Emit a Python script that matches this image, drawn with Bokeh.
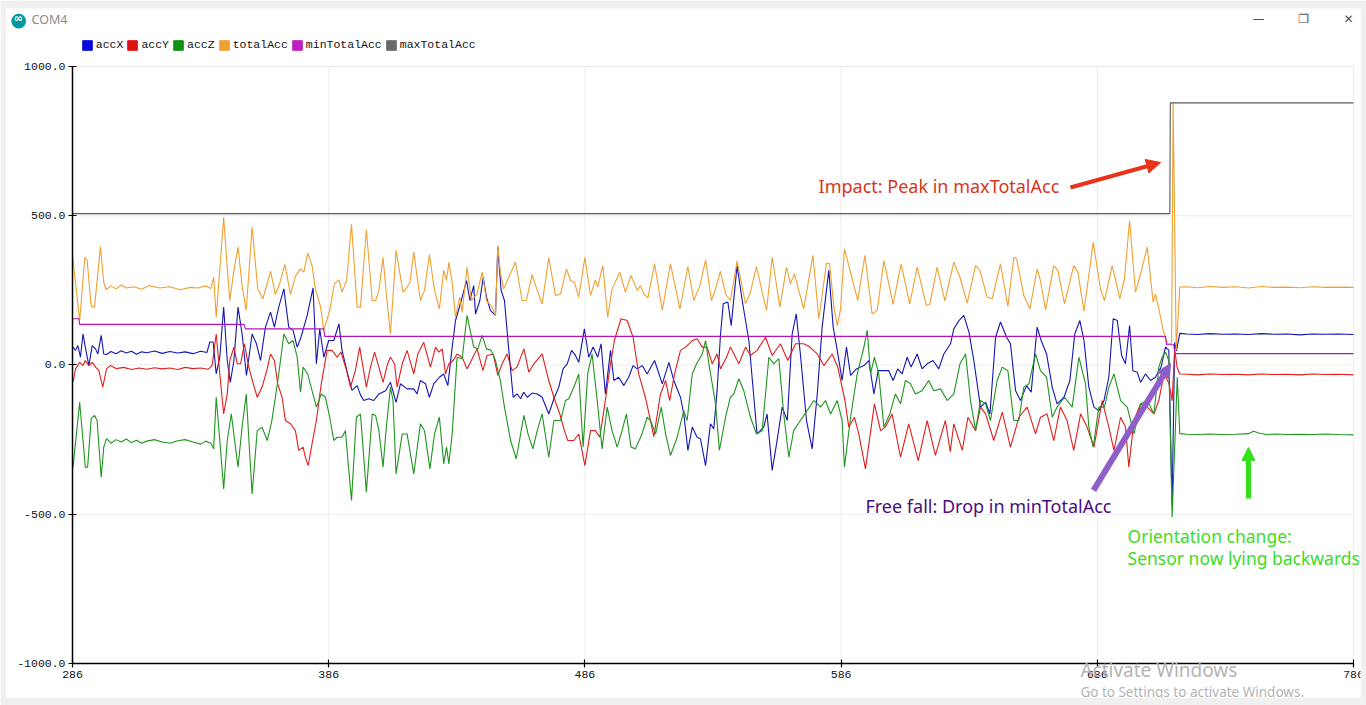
import numpy as np
from bokeh.plotting import figure
from bokeh.models import (Range1d, FixedTicker, NumeralTickFormatter, Legend, LegendItem,
                          Label, Arrow, NormalHead)
from bokeh.embed import file_html
from bokeh.resources import INLINE

# ---------------- data ----------------
series_names = ["accX", "accY", "accZ", "totalAcc", "minTotalAcc", "maxTotalAcc"]
series_colors = ["#1515b4", "#e01e1e", "#1f951f", "#f0a030", "#b414b4", "#5a5a5a"]
legend_colors = ["#0a0ad8", "#e01010", "#109410", "#f0a030", "#c020c0", "#6a6a6a"]

x_ticks = [286, 386, 486, 586, 686, 786]
y_ticks = [-1000, -500, 0, 500, 1000]

total_t = [286, 288.8, 290.8, 291.7, 293.3, 294.6, 296.9, 298.2, 299.1, 301, 303, 305, 307, 310, 313, 316, 320,
           324, 328, 332, 335, 338, 340, 341.1, 342.1, 345, 346.4, 347.4, 349, 350.6, 352.2, 353.8, 356.1,
           358.3, 360.3, 363.3, 365.2, 366.9, 368.9, 371.1, 373, 375, 376.3, 377.8, 379.5, 380.8, 382.8,
           384.1, 386.4, 388.2, 390, 391.2, 393, 394.9, 397.1, 398.4, 400.7, 403, 404.3, 405.6, 407.2,
           408.5, 410.1, 412.3, 415, 416.6, 417.7, 419.2, 421.8, 423.4, 425.3, 427.3, 429.2, 430.9, 432,
           432.9, 434.2, 435.5, 437.2, 438.1, 440, 441.7, 443.9, 445.9, 447.6, 449.8, 451.1, 452, 453,
           454.3, 456.3, 458.9, 461.5, 463.1, 465.4, 467.4, 469.3, 471.9, 474.5, 476.5, 478.8, 480.4,
           481.9, 483.6, 486, 488.2, 490.1, 491, 493, 494.9, 496.6, 499.6, 501.8, 504, 506.4, 507.7, 509,
           510.6, 513.2, 516.2, 519.4, 523.1, 526.2, 528.5, 530.9, 533.1, 535.4, 537, 538.9, 540.9, 542.8,
           545.4, 548.7, 550.6, 553, 555.2, 556.9, 559.1, 562.1, 564.7, 566.2, 567.8, 571.4, 575, 577.3,
           580.3, 581.5, 583.2, 584.5, 585.8, 587.3, 589, 592.5, 595.3, 598.1, 600.1, 602.7, 606.3, 609.4,
           612.8, 615.7, 619.3, 620.6, 623.5, 626.5, 630, 632.4, 635.2, 638.5, 640.2, 643, 645, 648.2,
           651.1, 653.4, 654.5, 657.3, 659.7, 662.5, 663.8, 665.8, 669, 670.6, 673.2, 676.8, 678.4, 680.8,
           684.4, 687.3, 688.8, 691.8, 694.8, 696.6, 698.6, 700.9, 702.9, 705.5, 707.8, 708.7, 710.7,
           711.7, 712.6, 713.5, 715, 715.6, 716.8, 718.2, 721, 725, 730, 735, 740, 745, 750, 755, 760, 765,
           770, 775, 780, 786]
total_v = [367, 149, 361, 352, 196, 194, 397, 277, 252, 265, 255, 268, 258, 262, 254, 266, 258,
           262, 252, 260, 258, 265, 256, 294, 160, 495, 328, 216, 317, 395, 266, 183, 462,
           255, 222, 314, 236, 274, 337, 236, 297, 322, 311, 375, 333, 255, 196,
           116, 183, 272, 285, 244, 283, 471, 194, 194, 453, 216, 216, 250, 361,
           238, 104, 384, 244, 261, 277, 378, 216, 250, 370, 250, 188, 317, 283,
           344, 277, 160, 227, 177, 328, 216, 238, 311, 216, 194, 166, 400, 311,
           255, 294, 345, 216, 216, 303, 250, 205, 359, 233, 238, 322, 283,
           277, 227, 361, 233, 285, 261, 333, 160, 255, 311, 244, 300, 250, 266, 238,
           225, 339, 183, 339, 188, 330, 216, 266, 352, 216, 255, 314, 238, 216,
           348, 205, 244, 330, 244, 183, 361, 194, 328, 272, 305, 188, 367, 155,
           341, 339, 194, 132, 188, 389, 333, 216, 367, 171, 183, 350, 203, 339,
           205, 328, 199, 203, 328, 215, 344, 294, 207, 333, 317, 227, 222, 339,
           196, 361, 356, 233, 188, 322, 283, 185, 333, 317, 205, 333, 311, 180,
           411, 252, 216, 333, 222, 289, 484, 244, 305, 395, 210, 238, 160,
           116, 93, 71, 71, 878, 50, 261, 262, 259, 263, 260, 262, 258, 263, 260, 261, 259,
           262, 260, 261, 260]

accx_t = [286.2, 287.2, 288.1, 289.1, 290.1, 291, 292.4, 293.7, 295, 295.9, 297.2, 298.2, 299.3, 301, 303,
          305, 307, 309, 311, 313, 315, 318, 321, 324, 327, 330, 333, 336, 338.5, 339.6, 340.9, 342.1,
          343.5, 345, 346.4, 347.6, 349, 350.6, 352.2, 353.9, 356.1, 357.8, 359.4, 361.3, 363.3, 364.8,
          366.5, 368.5, 370.4, 372.1, 373.7, 375, 377.6, 379.9, 381.2, 382.5, 384.1, 386, 388, 390, 391.2,
          393.4, 395.1, 397.1, 398.4, 399.7, 401.6, 403.6, 405.6, 408.2, 410.1, 412.3, 414, 416.6, 419.2,
          420.5, 421.8, 423.8, 425.3, 427, 429.2, 430.9, 432.5, 434.2, 435.5, 437.4, 439.8, 441.1, 442.6,
          443.3, 445, 446.3, 447.6, 449.1, 451.1, 452, 453.3, 454.6, 456.3, 458, 459.5, 460.9, 462.1,
          463.5, 465.4, 467.4, 469.3, 471.9, 473.9, 475.8, 477.5, 479.1, 480.8, 482.3, 483.6, 485.8,
          487.5, 489.2, 491, 492.3, 494, 496, 497.3, 499.2, 501.2, 503.1, 504.8, 506.4, 508.4, 510.3,
          513.2, 516.2, 518.8, 520.7, 523.3, 524.6, 526.2, 527.9, 529.8, 531.1, 533.1, 535, 536.3, 537.6,
          538.9, 540, 541.8, 543.1, 545.4, 547.4, 550, 553.2, 555.8, 557.1, 559.1, 560.8, 563, 565,
          566.9, 568.5, 570.1, 572.5, 574.7, 576.7, 578.6, 581.2, 582.9, 584.5, 586.4, 588.1, 589.7, 592,
          593.6, 594.9, 596.8, 598.8, 600.5, 602.4, 604.6, 606.3, 608.1, 609.8, 611.8, 613.3, 615.7,
          617.6, 619.6, 621.9, 624.1, 626.1, 628.7, 630, 632, 633.9, 635.9, 637.8, 640.4, 642.4, 644.1,
          646.3, 648.2, 650.6, 652.1, 654.1, 656, 658.4, 660.2, 662.5, 664.1, 666.2, 668.4, 670.3, 673,
          675.3, 677.2, 679.2, 680.8, 682.7, 684.7, 686.6, 688.6, 690.5, 692.2, 693.8, 695.5, 697, 698.6,
          699.9, 701.6, 702.9, 704.8, 706.8, 708.7, 710.9, 712.6, 713.9, 715.2, 716.2, 716.9, 718.2, 721,
          725, 730, 735, 740, 745, 750, 755, 760, 765, 770, 775, 780, 786]
accx_v = [60, 49, 65, 26, 104, 60, -2, 65, 54, 37, 99, 37, 35, 45, 38,
          48, 40, 46, 36, 44, 41, 47, 39, 45, 40, 44, 38, 46, 42, 77, 77, -30,
          26, 194, 15, -58, 15, 194, 104, -35, 104, 71, 15, 127, 177, 127,
          194, 255, 127, 116, 60, 88, 166, 258, 4, 121, 26, 82, 82, 138, 49,
          -30, -85, -69, -100, -119, -113, -119, -97, -86, -58, -125, -63, -80, -80,
          -97, -52, -63, -108, -63, -41, -30, -69, 60, 149, 205, 283, 216, 266,
          171, 216, 294, 227, 183, 166, 395, 250, 216, 49, -108, -97, -113, -91,
          -108, -94, -97, -108, -164, -113, -74, -13, 4, 49, 32, 9, 121,
          26, 60, 26, 71, -97, 49, -52, -41, -69, -41, -2, -13, -2, -30,
          15, -63, 9, -52, -108, -164, -286, -208, -242, -247, -337, -197, -214, -86,
          99, 205, 211, 132, 333, 216, 82, -231, -208, -164, -353, -264, -141, -186,
          104, 171, 37, -186, -281, -97, 127, 317, 127, 49, -52, 60, -35, -13,
          -7, -2, 15, -97, -19, -19, -19, -52, -13, -30, 26, -7, 37,
          -13, 4, 15, -13, 37, 71, 121, 149, 166, 110, 15, -141, -125, -164,
          93, 144, 93, 71, -86, -119, -69, -91, 127, 82, 37, -74, -130, -108,
          -52, 104, 149, 82, -74, -141, -153, -119, -41, 155, 149, 32, 4, 132,
          -19, -24, -58, -30, -52, -41, -7, 60, 50, -470, 76, 47, 106, 104,
          102, 105, 103, 104, 102, 105, 103, 104, 101, 104, 103, 104, 102]

accy_t = [286.2, 287.2, 288.8, 290.1, 291, 292.4, 293.7, 295, 296.3, 297.8, 299.3, 300.8, 303, 306, 309,
          312, 315, 318, 321, 324, 327, 330, 333, 336, 339, 340.5, 342.1, 343.5, 345, 346.4, 347.4, 349,
          350.3, 351.6, 353.1, 354.8, 356.4, 358.1, 360, 362, 363.3, 364.8, 366.1, 367.8, 369.1, 371.1,
          373, 374.3, 376, 376.9, 378, 379.5, 381.2, 383.1, 385.4, 387.3, 389.3, 390.8, 393, 394.5, 396.4,
          398.1, 400.7, 402.3, 403.9, 405.6, 407.2, 409, 410.1, 411.7, 412.7, 414.7, 416.6, 419.2, 420.8,
          423.1, 425.7, 427.7, 429, 430.3, 431.6, 432.9, 434.6, 436.1, 438.1, 440, 442, 443.9, 446.2,
          447.8, 450.2, 452, 453.7, 455.6, 457.6, 459.5, 462.2, 464.1, 466.1, 469.3, 471.9, 473.9, 476.2,
          478, 479.3, 481.7, 483.6, 486, 488.2, 490.1, 491.8, 493.4, 496, 497.5, 500.1, 502.5, 504.8, 507,
          509.6, 511.6, 512.9, 515.5, 517.5, 519.1, 521, 523.3, 525.3, 527.9, 529.8, 531.8, 533.7, 535.7,
          537.6, 538.9, 541.3, 542.8, 546.1, 548.7, 550.6, 553.2, 556.5, 559.1, 562.3, 565.2, 568.2,
          571.4, 573.8, 576.7, 579.3, 582.5, 584.7, 586.4, 587.5, 589, 591.2, 592.9, 595.5, 599, 601.4,
          603.3, 605.9, 609.2, 612.4, 616.1, 619.6, 622.8, 626.7, 628.6, 630, 633.3, 635.5, 638.5, 640.4,
          642.4, 645.6, 648.9, 652.1, 655.4, 658.6, 661.9, 663.8, 666.4, 669, 671.6, 674.2, 676.8, 679.5,
          682, 684.7, 687.9, 690.5, 692.5, 695.1, 697, 698.3, 700.3, 702.9, 705.5, 708.1, 710, 712, 713.9,
          715.2, 716.2, 717.2, 718.2, 721, 725, 730, 735, 740, 745, 750, 755, 760, 765, 770, 775, 780, 786]
accy_v = [-57, -13, 9, -2, 15, -2, 9, -7, -19, -74, -13, -2, -12, -8, -15,
          -10, -14, -9, -13, -10, -15, -8, -12, -10, -14, -2, 104, -30, -164, -97, 15, 60,
          4, 4, 71, -7, -58, -108, -74, -13, 37, 15, -63, -108, -186, -197,
          -220, -286, -275, -309, -337, -264, -186, -63, 49, 49, 26, 43, -19, -74, -19,
          60, -74, -7, 43, -7, -58, 4, 26, 4, -74, 4, 49, -30, 37,
          76, -7, 60, 43, 54, -30, 4, 15, 37, 26, -13, 21, 54, -19,
          32, 37, -35, 4, 37, -19, -7, 54, -24, 4, 37, -52, -108, -164,
          -220, -253, -253, -231, -337, -220, -220, -242, -153, 4, 82, 155, 149, 93, -30,
          -108, -186, -240, -97, -52, -119, -30, 49, 60, 82, 88, 60, 60, 4,
          37, -13, 26, 60, 4, 60, 32, 49, 93, 32, 71, 15, 71,
          71, 60, 37, -2, 37, -7, -74, -119, -208, -175, -231, -348, -130, -220,
          -208, -164, -309, -197, -320, -186, -303, -186, -290, -197, -286, -175, -220, -141,
          -164, -253, -158, -275, -175, -141, -231, -175, -164, -253, -141, -186, -286, -164,
          -208, -275, -119, -208, -286, -175, -208, -342, -186, -130, -141, -164, -119, -30, -60,
          -120, 50, -10, -30, -31, -33, -30, -32, -31, -33, -30, -32, -31, -33, -30, -32, -31, -33]

accz_t = [286.2, 288.8, 291, 291.9, 293.3, 294.6, 295.6, 297.2, 298.2, 299.3, 301, 303, 305, 307, 309, 311,
          313, 315, 318, 321, 324, 327, 330, 333, 336, 338, 340, 341.1, 342.1, 343.5, 345, 346.4, 348,
          349.6, 350.6, 352.2, 353.8, 356.1, 358.1, 360, 362, 363.7, 365.2, 366.5, 368.5, 370.4, 372.1,
          373.7, 375, 376, 377.8, 379.5, 381.2, 383.1, 384.7, 386.4, 388, 389.3, 391.2, 392.5, 394.9,
          396.8, 398.4, 400.7, 403, 404.3, 405.6, 407.2, 408.5, 410.1, 411.1, 412.3, 414.7, 416.6, 419.2,
          421.8, 423.4, 425.5, 427.3, 429.2, 430.9, 432, 432.9, 434.2, 436.1, 438.1, 440, 442.6, 444.2,
          445.9, 447.6, 449.4, 451.1, 453, 454.6, 457, 459.2, 462.2, 463.8, 465.7, 467.4, 469.3, 471.9,
          473.9, 476.5, 478.4, 479.7, 481.7, 483.6, 485.3, 487.1, 488.8, 490.8, 492.7, 494.7, 496.6,
          498.6, 500.5, 502.2, 504, 505.7, 508.3, 510.3, 511.6, 513.6, 515.8, 517.5, 519.4, 522, 524.6,
          525.9, 527.9, 529.6, 531.8, 533.1, 534.4, 537, 538.5, 540.9, 542.8, 544.1, 546.1, 548, 550.6,
          553, 555.2, 557.8, 559.7, 561.7, 563.6, 565.6, 567.5, 570.1, 572.7, 575.4, 578, 579.9, 581.9,
          584.5, 586.4, 587.3, 589.7, 592.3, 594.9, 596.2, 597.5, 599, 600.7, 602.7, 605, 607.2, 609.2,
          611.1, 613.1, 615, 617.6, 620.2, 622.2, 624.8, 627.4, 630, 632.4, 634.6, 636.5, 638.5, 640.4,
          642.4, 644.3, 646.9, 648.9, 651.1, 653.4, 655.4, 657.3, 659.3, 661.9, 663.8, 666.2, 668.4,
          670.3, 673.2, 676.2, 678.8, 681.4, 682.7, 684.4, 686.6, 688.8, 690.5, 692.5, 695.1, 697.7,
          700.3, 702.9, 705.5, 708.1, 710, 711.3, 712.6, 713.9, 715.2, 717.2, 718.2, 721, 725, 730, 735,
          740, 745, 747, 749, 752, 756, 760, 765, 770, 775, 780, 786]
accz_v = [-342, -125, -342, -342, -180, -169, -186, -376, -275, -247, -262, -250, -258, -248, -260, -252,
          -262, -255, -250, -258, -262, -254, -250, -258, -265, -255, -262, -281, -108, -253, -415, -253, -164,
          -275, -342, -208, -97, -432, -220, -208, -253, -192, -108, -30, 104, 71, 82,
          26, -91, -7, -30, -86, -141, -97, -108, -175, -253, -242, -242, -220, -454,
          -175, -164, -426, -164, -169, -220, -342, -208, -74, -119, -365, -231, -231, -365,
          -197, -220, -348, -231, -175, -331, -275, -331, -231, 26, 21, 166, 60, 54,
          99, 54, 49, 15, -52, -141, -253, -314, -169, -231, -281, -220, -164, -309,
          -186, -186, -119, -113, -74, -30, -275, -30, 37, -119, -281, -141, -220,
          -275, -220, -164, -275, -281, -231, -175, -186, -231, -141, -231, -303, -242, -153,
          -186, -30, 4, 37, 82, 4, -130, -286, -175, -108, -97, -46, -86, -175,
          -231, -220, 26, 4, 21, -164, -309, -220, -186, -153, -119, -141, -119, -164,
          -119, -186, -342, -175, -30, 60, 116, -30, 26, -30, -208, -164, -97, -130,
          -52, -63, -97, -86, -52, -86, -80, -119, -97, 4, 37, -119, -220, -119,
          -130, -186, -52, -7, -19, -186, -186, -74, -63, 37, -19, -41, -175,
          -141, -108, -141, 26, -63, -208, -275, -141, -141, -74, -30, -119, -141,
          -231, -130, -119, -164, -7, 26, 43, 15, -510, -41, -230, -232, -233, -231, -233,
          -232, -230, -222, -228, -233, -231, -233, -232, -233, -231, -233, -234]

min_t = [286, 288.5, 288.8, 352.9, 353.5, 384.0, 384.5, 712.6, 713.0, 715.8, 716.3, 786]
min_v = [155, 155, 136, 136, 121, 121, 96, 96, 68, 68, 38, 38]

max_t = [286, 714.3, 714.5, 786]
max_v = [507, 507, 878, 878]

series_t = [accx_t, accy_t, accz_t, total_t, min_t, max_t]
series_v = [accx_v, accy_v, accz_v, total_v, min_v, max_v]

# ---------------- figure ----------------
# The frame covers the white window area; axes are pinned at the plot edges so that the
# title bar, legend and watermark texts can sit inside the same canvas.
p = figure(width=1366, height=705, output_backend="svg", toolbar_location=None,
           x_range=Range1d(260.24, 788.73), y_range=Range1d(-1113.9, 1194.3),
           min_border_left=6, min_border_right=6, min_border_top=8, min_border_bottom=8)
p.outline_line_color = None
p.background_fill_color = "white"
p.border_fill_color = "#f0f0f0"
p.xgrid.visible = False
p.ygrid.visible = False

# grid lines limited to the plotting area
p.segment(x0=x_ticks[1:], x1=x_ticks[1:], y0=[y_ticks[0]] * 5, y1=[y_ticks[-1]] * 5,
          line_color="#ececec", line_width=1)
p.segment(x0=[x_ticks[0]] * 4, x1=[x_ticks[-1]] * 4, y0=y_ticks[1:], y1=y_ticks[1:],
          line_color="#ececec", line_width=1)

for t, v, c in zip(series_t, series_v, series_colors):
    p.line(t, v, line_color=c, line_width=1.1)

for ax, ticks in ((p.xaxis[0], x_ticks), (p.yaxis[0], y_ticks)):
    ax.ticker = FixedTicker(ticks=ticks)
    ax.bounds = (ticks[0], ticks[-1])
    ax.axis_line_color = "black"
    ax.axis_line_width = 1.5
    ax.major_tick_line_color = "black"
    ax.major_tick_line_width = 1.2
    ax.major_tick_in = 4
    ax.major_tick_out = 4
    ax.minor_tick_line_color = None
    ax.major_label_text_font = "Liberation Mono"
    ax.major_label_text_font_size = "11.5px"
    ax.major_label_text_color = "#111111"
    ax.major_label_standoff = 3
p.xaxis[0].fixed_location = y_ticks[0]
p.yaxis[0].fixed_location = x_ticks[0]
p.yaxis[0].formatter = NumeralTickFormatter(format="0.0")

# legend with square swatches (swatch renderers hold a single NaN so they draw nothing)
nan1 = np.array([np.nan])
items = []
for name, c in zip(series_names, legend_colors):
    r = p.quad(left=nan1, right=nan1, top=nan1, bottom=nan1, fill_color=c, line_color=c)
    items.append(LegendItem(label=name, renderers=[r]))
leg = Legend(items=items, orientation="horizontal", location=(74.8, 646),
             glyph_width=12, glyph_height=12, label_height=12, label_standoff=3, spacing=3,
             padding=0, margin=0, border_line_alpha=0, background_fill_alpha=0,
             label_text_font="Liberation Mono", label_text_font_size="11.5px",
             label_text_color="#111111")
p.add_layout(leg, "center")

# window title bar
p.add_layout(Label(x=264.9, y=1160, text="●", text_color="#00979d", text_font="DejaVu Sans",
                   text_font_size="19px", text_align="center", text_baseline="middle"))
p.add_layout(Label(x=264.9, y=1161, text="∞", text_color="white", text_font="DejaVu Sans",
                   text_font_size="11px", text_font_style="bold", text_align="center",
                   text_baseline="middle"))
p.add_layout(Label(x=270, y=1157, text="COM4", text_color="#8a8a8a", text_font="Noto Sans",
                   text_font_size="12.5px", text_baseline="middle"))
for cx, sym in ((748.9, "—"), (766.5, "❐"), (784.1, "✕")):
    p.add_layout(Label(x=cx, y=1160, text=sym, text_color="#555555", text_font="DejaVu Sans",
                       text_font_size="12px", text_align="center", text_baseline="middle"))

# annotations
p.add_layout(Label(x=577.2, y=598, text="Impact: Peak in maxTotalAcc", text_color="#d8361a",
                   text_font="Noto Sans", text_font_size="18px", text_baseline="middle"))
p.add_layout(Arrow(x_start=675.5, y_start=594.6, x_end=710.7, y_end=678.4, line_color="#e8321a",
                   line_width=4, end=NormalHead(size=14, fill_color="#e8321a", line_color="#e8321a")))
p.add_layout(Label(x=595.5, y=-474, text="Free fall: Drop in minTotalAcc", text_color="#4a0c80",
                   text_font="Noto Sans", text_font_size="18px", text_baseline="middle"))
p.add_layout(Arrow(x_start=684.5, y_start=-420, x_end=714.6, y_end=5, line_color="#8e5fc8",
                   line_width=6, end=NormalHead(size=14, fill_color="#8e5fc8", line_color="#8e5fc8")))
p.add_layout(Label(x=697.8, y=-574.5, text="Orientation change:", text_color="#3ddc1f",
                   text_font="Noto Sans", text_font_size="17.5px", text_baseline="middle"))
p.add_layout(Label(x=697.8, y=-648, text="Sensor now lying backwards", text_color="#3ddc1f",
                   text_font="Noto Sans", text_font_size="17.5px", text_baseline="middle"))
p.add_layout(Arrow(x_start=745, y_start=-447, x_end=745, y_end=-276, line_color="#33e01a",
                   line_width=5, end=NormalHead(size=13, fill_color="#33e01a", line_color="#33e01a")))

# OS watermark
p.add_layout(Label(x=679.4, y=-1023, text="Activate Windows", text_color="#b4b4b4",
                   text_font="Noto Sans", text_font_size="19px", text_baseline="middle"))
p.add_layout(Label(x=679.4, y=-1097, text="Go to Settings to activate Windows.", text_color="#b4b4b4",
                   text_font="Noto Sans", text_font_size="13.5px", text_baseline="middle"))

open("out.html", "w").write(file_html(p, INLINE))
